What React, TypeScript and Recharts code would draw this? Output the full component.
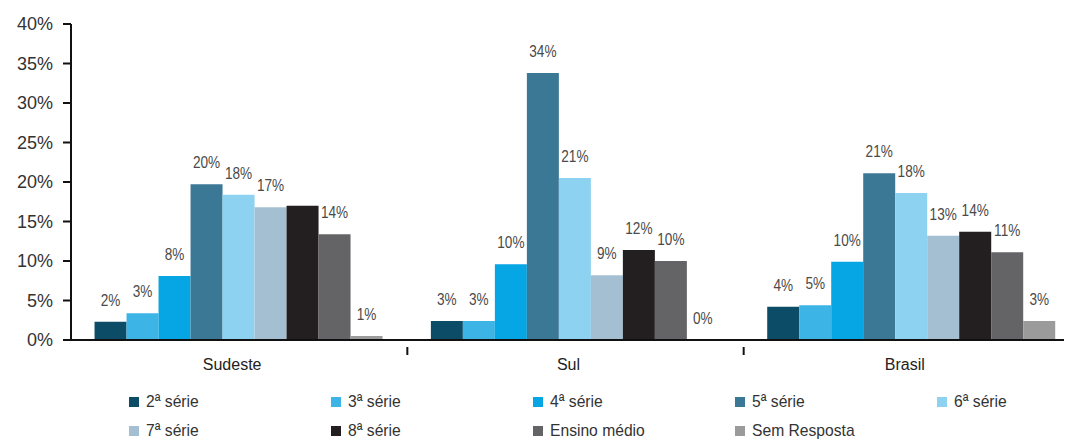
import { BarChart, Bar, XAxis, YAxis, LabelList } from 'recharts'

// regions on the x axis
const regions = ['Sudeste', 'Sul', 'Brasil']

// share of answers per grade (%)
const serie2 = [2.3, 2.4, 4.2]
const serie3 = [3.4, 2.4, 4.4]
const serie4 = [8.1, 9.6, 9.9]
const serie5 = [19.7, 33.8, 21.1]
const serie6 = [18.4, 20.5, 18.6]
const serie7 = [16.8, 8.2, 13.2]
const serie8 = [17.0, 11.4, 13.7]
const ensinoMedio = [13.4, 10.0, 11.1]
const semResposta = [0.5, 0.05, 2.4]

// printed labels (as they appear in the source)
const labels2 = ['2%', '3%', '4%']
const labels3 = ['3%', '3%', '5%']
const labels4 = ['8%', '10%', '10%']
const labels5 = ['20%', '34%', '21%']
const labels6 = ['18%', '21%', '18%']
const labels7 = ['17%', '9%', '13%']
const labels8 = ['', '12%', '14%']
const labelsEM = ['14%', '10%', '11%']
const labelsSR = ['1%', '0%', '3%']

const yTicks = [0, 5, 10, 15, 20, 25, 30, 35, 40]

const series = [
    { key: 's2', name: '2ª série', color: '#0d4c66', values: serie2, labels: labels2 },
    { key: 's3', name: '3ª série', color: '#3cb5e6', values: serie3, labels: labels3 },
    { key: 's4', name: '4ª série', color: '#06a5e3', values: serie4, labels: labels4 },
    { key: 's5', name: '5ª série', color: '#3b7896', values: serie5, labels: labels5 },
    { key: 's6', name: '6ª série', color: '#8dd2f1', values: serie6, labels: labels6 },
    { key: 's7', name: '7ª série', color: '#a4bfd1', values: serie7, labels: labels7 },
    { key: 's8', name: '8ª série', color: '#231f20', values: serie8, labels: labels8 },
    { key: 'em', name: 'Ensino médio', color: '#646466', values: ensinoMedio, labels: labelsEM },
    { key: 'sr', name: 'Sem Resposta', color: '#9b9b9b', values: semResposta, labels: labelsSR },
]

const data = regions.map((region, i) => {
    const row: Record<string, string | number> = { region }
    series.forEach((s) => {
        row[s.key] = s.values[i]
        row[s.key + '_l'] = s.labels[i]
    })
    return row
})

const font = "'Liberation Sans', Arial, sans-serif"

function RegionTick(props: any) {
    const { x, y, payload } = props
    const half = payload.offset ?? 0
    return (
        <g>
            <text
                x={x - 7}
                y={y + 22}
                textAnchor="middle"
                fontSize={16}
                fontFamily={font}
                fill="#222"
            >
                {payload.value}
            </text>
            {payload.index < regions.length - 1 && (
                <line x1={x + half} x2={x + half} y1={y - 1} y2={y + 7} stroke="#111" strokeWidth={2} />
            )}
        </g>
    )
}

// condensed value label above each bar
function ValueLabel(props: any) {
    const { x, y, width, value } = props
    if (!value) return null
    const cx = Number(x) + Number(width) / 2
    const cy = Number(y) - 16
    return (
        <text
            transform={`translate(${cx},${cy}) scale(0.8,1)`}
            textAnchor="middle"
            fontSize={17}
            fontFamily={font}
            fill="#4a4a4a"
        >
            {value}
        </text>
    )
}

function Legenda() {
    return (
        <div
            style={{
                position: 'absolute',
                left: 129,
                top: 387,
                display: 'grid',
                gridTemplateColumns: 'repeat(5, 202px)',
                gridAutoRows: '29px',
                fontFamily: font,
                fontSize: 17,
                lineHeight: '29px',
                color: '#333',
            }}
        >
            {series.map((s) => (
                <div key={s.key} style={{ height: 29, whiteSpace: 'nowrap' }}>
                    <span
                        style={{
                            display: 'inline-block',
                            width: 10,
                            height: 10,
                            background: s.color,
                            marginRight: 7,
                        }}
                    />
                    <span style={{ display: 'inline-block', transform: 'scaleX(0.92)', transformOrigin: 'left' }}>
                        {s.name}
                    </span>
                </div>
            ))}
        </div>
    )
}

export default function App() {
    return (
        <div
            style={{
                position: 'relative',
                width: 1072,
                height: 439,
                marginTop: -8,
                marginLeft: -8,
                overflow: 'hidden',
                background: '#fff',
            }}
        >
            <BarChart
                width={1080}
                height={439}
                data={data}
                margin={{ top: 24, right: 0, left: 0, bottom: 69 }}
                barCategoryGap="7%"
                barGap={0}
            >
                <XAxis
                    dataKey="region"
                    height={30}
                    axisLine={{ stroke: '#111', strokeWidth: 2 }}
                    tickLine={false}
                    tick={<RegionTick />}
                    interval={0}
                />
                <YAxis
                    width={71}
                    domain={[0, 40]}
                    ticks={yTicks}
                    tickFormatter={(v) => v + '%'}
                    axisLine={{ stroke: '#111', strokeWidth: 2 }}
                    tickLine={{ stroke: '#111', strokeWidth: 2 }}
                    tickSize={8}
                    tickMargin={10}
                    tick={{ fontSize: 18, fill: '#333', fontFamily: font }}
                />
                {series.map((s) => (
                    <Bar key={s.key} dataKey={s.key} fill={s.color} isAnimationActive={false}>
                        <LabelList dataKey={s.key + '_l'} content={<ValueLabel />} />
                    </Bar>
                ))}
            </BarChart>
            <Legenda />
        </div>
    )
}
